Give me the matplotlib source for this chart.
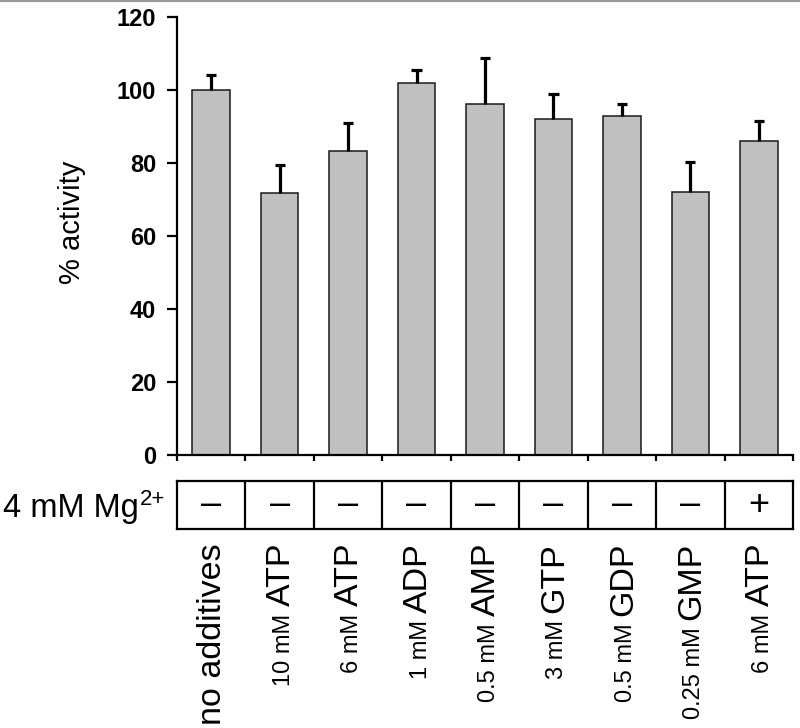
import matplotlib
matplotlib.use("Agg")
import matplotlib.pyplot as plt
from matplotlib.transforms import IdentityTransform
from matplotlib.lines import Line2D
import numpy as np

plt.rcParams['font.family'] = ['Liberation Sans', 'DejaVu Sans']

# ---- data ----
conc_labels = ["", "10 mM", "6 mM", "1 mM", "0.5 mM", "3 mM", "0.5 mM", "0.25 mM", "6 mM"]
compound_labels = ["no additives", "ATP", "ATP", "ADP", "AMP", "GTP", "GDP", "GMP", "ATP"]
activity = [100.0, 71.8, 83.4, 101.8, 96.1, 92.1, 92.9, 72.1, 86.0]
error_up = [4.0, 7.7, 7.5, 3.7, 12.6, 6.8, 3.3, 8.3, 5.6]
mg_present = ["–", "–", "–", "–", "–", "–", "–", "–", "+"]
y_ticks = [0, 20, 40, 60, 80, 100, 120]

W, H = 800, 728
fig = plt.figure(figsize=(W / 100, H / 100), dpi=100)

ax = fig.add_axes([177 / W, 1 - 455 / H, 616 / W, 438 / H])
n = len(activity)
x = np.arange(n) + 0.5
ax.bar(x, activity, width=0.55, color='#c0c0c0', edgecolor='#1a1a1a', linewidth=1.1, zorder=2)
tops = np.array(activity) + np.array(error_up)
ax.vlines(x, activity, tops, color='black', linewidth=2.3, zorder=3)
ax.hlines(tops, x - 0.075, x + 0.075, color='black', linewidth=2.3, zorder=3)

ax.set_xlim(0, n)
ax.set_ylim(0, 120)
ax.set_yticks(y_ticks)
ax.set_yticklabels([str(v) for v in y_ticks], fontsize=17, fontweight='bold')
ax.set_xticks(np.arange(n + 1))
ax.set_xticklabels([])
for s in ['top', 'right']:
    ax.spines[s].set_visible(False)
for s in ['left', 'bottom']:
    ax.spines[s].set_linewidth(1.6)
ax.tick_params(axis='y', direction='out', length=7, width=1.6, pad=8)
ax.tick_params(axis='x', direction='out', length=4.5, width=1.6)

fig.text(72 / W, 1 - 222 / H, "% activity", rotation=90, ha='center', va='center', fontsize=21)

# ---- Mg table ----
ax2 = fig.add_axes([177 / W, 1 - 529 / H, 616 / W, 48 / H])
ax2.set_xlim(0, n)
ax2.set_ylim(0, 1)
ax2.set_xticks([])
ax2.set_yticks([])
for s in ax2.spines.values():
    s.set_linewidth(1.6)
for b in range(1, n):
    ax2.axvline(b, color='black', linewidth=1.6)
for i, sym in enumerate(mg_present):
    ax2.text(i + 0.5, 0.5, sym, ha='center', va='center', fontsize=26)

fig.canvas.draw()
renderer = fig.canvas.get_renderer()

# row label with superscript
base_y = H - 517
mg = fig.text(3, base_y, "4 mM Mg", transform=IdentityTransform(),
              ha='left', va='baseline', fontsize=23.5)
mbb = mg.get_window_extent(renderer)
fig.text(mbb.x1 + 1, base_y + 12, "2+", transform=IdentityTransform(),
         ha='left', va='baseline', fontsize=16)

# ---- rotated category labels ----
top_px = H - 543
for i in range(n):
    xc = ax.transData.transform((x[i], 0))[0] + 10
    big = fig.text(xc, top_px, compound_labels[i], transform=IdentityTransform(),
                   rotation=90, rotation_mode='anchor', ha='right', va='baseline',
                   fontsize=24.5)
    if conc_labels[i]:
        bb = big.get_window_extent(renderer)
        fig.text(xc, bb.y0 - 7, conc_labels[i], transform=IdentityTransform(),
                 rotation=90, rotation_mode='anchor', ha='right', va='baseline',
                 fontsize=17)

fig.add_artist(Line2D([0, 1], [1 - 0.8 / H, 1 - 0.8 / H], transform=fig.transFigure,
                      color='#999999', linewidth=1.5))

fig.savefig("out.png", dpi=100)
